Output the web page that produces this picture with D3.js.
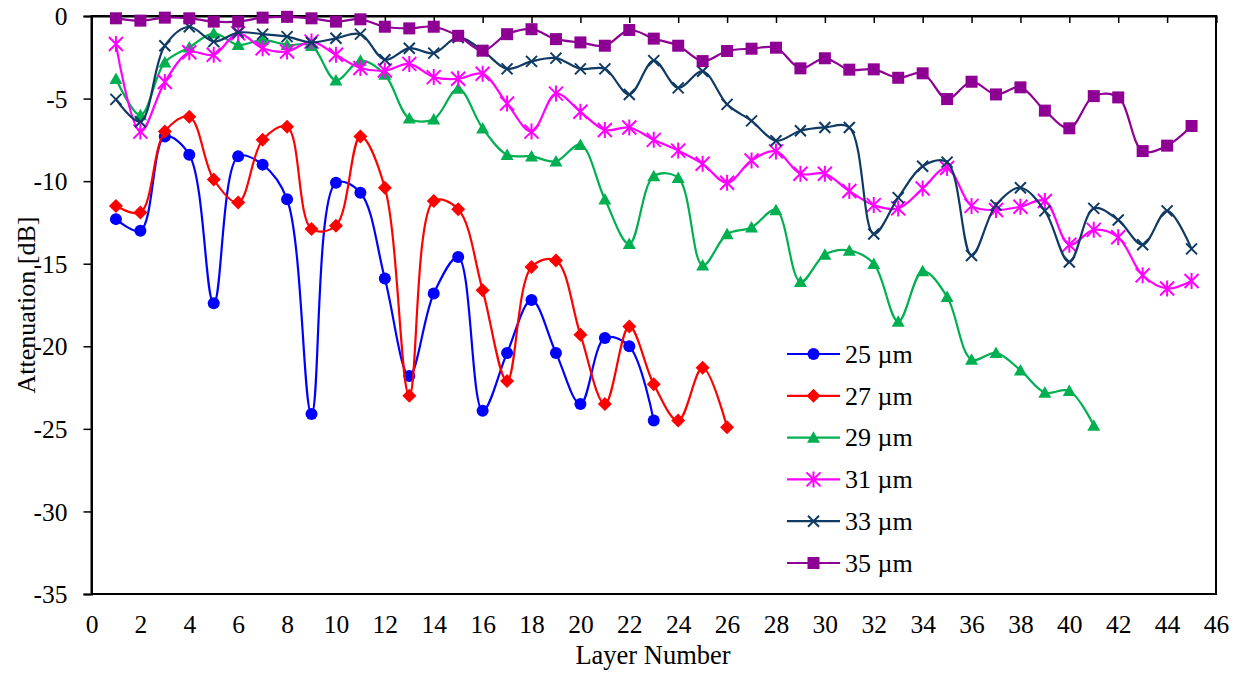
<!DOCTYPE html>
<html>
<head>
<meta charset="utf-8">
<script src="https://cdn.jsdelivr.net/npm/d3@7"></script>
<style>
  html, body { margin: 0; padding: 0; background: #fff; }
  svg { display: block; }
  svg text { font-family: "Times New Roman", "Liberation Serif", "DejaVu Serif", serif; fill: #000; }
</style>
</head>
<body>
<svg id="chart" width="1239" height="673"></svg>
<script>
// ---- Data ----
const seriesNames = ["25 \u00b5m", "27 \u00b5m", "29 \u00b5m", "31 \u00b5m", "33 \u00b5m", "35 \u00b5m"];

const s25 = [-12.3, -13.0, -7.3, -8.4, -17.4, -8.5, -9.0, -11.1, -24.1, -10.1, -10.7, -15.9,
  -21.8, -16.8, -14.6, -23.9, -20.4, -17.2, -20.4, -23.5, -19.5, -20.0, -24.5];

const s27 = [-11.5, -11.9, -7.0, -6.1, -9.9, -11.3, -7.5, -6.7, -12.9, -12.7, -7.3, -10.4,
  -23.0, -11.2, -11.7, -16.6, -22.1, -15.2, -14.8, -19.3, -23.5, -18.8, -22.3, -24.5, -21.3, -24.9];

const s29 = [-3.8, -6.0, -2.8, -1.9, -1.05, -1.75, -1.45, -1.75, -1.8, -3.9, -2.7, -3.55,
  -6.2, -6.25, -4.4, -6.8, -8.4, -8.5, -8.8, -7.8, -11.1, -13.8, -9.7, -9.8,
  -15.1, -13.2, -12.8, -11.75, -16.1, -14.45, -14.2, -15.0, -18.5, -15.45, -17.0, -20.8,
  -20.4, -21.45, -22.8, -22.7, -24.8];

const s31 = [-1.7, -7.0, -4.0, -2.2, -2.35, -1.05, -1.95, -2.15, -1.55, -2.35, -3.15, -3.3,
  -2.9, -3.7, -3.8, -3.5, -5.3, -7.0, -4.7, -5.8, -6.9, -6.75, -7.5, -8.15,
  -8.95, -10.1, -8.75, -8.2, -9.55, -9.55, -10.6, -11.45, -11.65, -10.45, -9.2, -11.5,
  -11.75, -11.55, -11.2, -13.85, -12.95, -13.4, -15.7, -16.5, -16.05];

const s33 = [-5.05, -6.4, -1.8, -0.65, -1.55, -1.0, -1.1, -1.25, -1.6, -1.35, -1.1, -2.65,
  -1.95, -2.25, -1.3, -2.1, -3.2, -2.75, -2.55, -3.2, -3.2, -4.75, -2.7, -4.35,
  -3.35, -5.35, -6.35, -7.55, -6.95, -6.75, -6.75, -13.2, -11.0, -9.1, -8.85, -14.5,
  -11.45, -10.4, -11.8, -14.9, -11.65, -12.35, -13.85, -11.8, -14.1];

const s35 = [-0.14, -0.28, -0.1, -0.14, -0.34, -0.34, -0.1, -0.05, -0.14, -0.34, -0.2, -0.65,
  -0.75, -0.65, -1.2, -2.1, -1.1, -0.8, -1.4, -1.6, -1.8, -0.85, -1.37, -1.8,
  -2.73, -2.12, -1.98, -1.92, -3.17, -2.56, -3.25, -3.23, -3.74, -3.47, -5.03, -3.98,
  -4.75, -4.32, -5.73, -6.8, -4.85, -4.93, -8.18, -7.85, -6.66];

const xTicks = d3.range(0, 47, 2);
const yTicks = d3.range(-35, 1, 5);

const seriesValues = [s25, s27, s29, s31, s33, s35];
const seriesColors = ["#0000FF", "#FF0000", "#00B050", "#FF00FF", "#0E3A64", "#8E0094"];
const seriesMarkers = ["circle", "diamond", "triangle", "asterisk", "cross", "square"];

// ---- Layout ----
const FONT = "'Times New Roman', 'Liberation Serif', 'DejaVu Serif', serif";
const svg = d3.select("#chart");
const plot = { left: 91.5, right: 1216, top: 16, bottom: 594 };

const x = d3.scaleLinear().domain([0, 46]).range([plot.left, plot.right]);
const y = d3.scaleLinear().domain([-35, 0]).range([plot.bottom, plot.top]);

// plot border
svg.append("rect")
  .attr("x", plot.left).attr("y", plot.top)
  .attr("width", plot.right - plot.left).attr("height", plot.bottom - plot.top)
  .attr("fill", "none").attr("stroke", "#000").attr("stroke-width", 2);

// Y axis (left) with outward ticks
const yAxis = d3.axisLeft(y).tickValues(yTicks).tickSize(8).tickPadding(16)
  .tickFormat(d => String(d));
const gy = svg.append("g").attr("transform", `translate(${plot.left},0)`).call(yAxis);
gy.attr("font-family", FONT).attr("font-size", 25.5);
gy.select(".domain").attr("stroke", "#000").attr("stroke-width", 2);
gy.selectAll(".tick line").attr("stroke", "#000").attr("stroke-width", 1.5);
gy.selectAll(".tick text").attr("fill", "#000").attr("dy", "0.34em");

// X axis line at y=0 (top) with ticks pointing down
const xAxisTop = d3.axisBottom(x).tickValues(xTicks).tickSize(7).tickFormat("");
const gxt = svg.append("g").attr("transform", `translate(0,${y(0)})`).call(xAxisTop);
gxt.select(".domain").attr("stroke", "#000").attr("stroke-width", 2);
gxt.selectAll(".tick line").attr("stroke", "#000").attr("stroke-width", 1.5);

// X labels at bottom (low position)
const xAxisLabels = d3.axisBottom(x).tickValues(xTicks).tickSize(0).tickPadding(0)
  .tickFormat(d3.format("d"));
const gxb = svg.append("g").attr("transform", `translate(0,${plot.bottom})`).call(xAxisLabels);
gxb.attr("font-family", FONT).attr("font-size", 25.5);
gxb.select(".domain").remove();
gxb.selectAll(".tick text").attr("fill", "#000").attr("dy", null).attr("y", 39);

// Axis titles
svg.append("text").attr("x", 653).attr("y", 664)
  .attr("text-anchor", "middle").attr("font-family", FONT).attr("font-size", 26.5).text("Layer Number");
svg.append("text").attr("transform", "translate(35,305) rotate(-90)")
  .attr("text-anchor", "middle").attr("font-family", FONT).attr("font-size", 26).text("Attenuation [dB]");

// ---- Markers ----
function drawMarker(g, type, cx, cy, color) {
  if (type === "circle") {
    g.append("circle").attr("cx", cx).attr("cy", cy).attr("r", 6).attr("fill", color);
  } else if (type === "diamond") {
    const s = 7;
    g.append("path").attr("d", `M${cx},${cy - s}L${cx + s},${cy}L${cx},${cy + s}L${cx - s},${cy}Z`).attr("fill", color);
  } else if (type === "triangle") {
    const w = 6.5, h = 11.5;
    g.append("path").attr("d", `M${cx},${cy - h * 0.55}L${cx + w},${cy + h * 0.45}L${cx - w},${cy + h * 0.45}Z`).attr("fill", color);
  } else if (type === "square") {
    const s = 6;
    g.append("rect").attr("x", cx - s).attr("y", cy - s).attr("width", 2 * s).attr("height", 2 * s).attr("fill", color);
  } else if (type === "cross") {
    const s = 5.5;
    g.append("path").attr("d", `M${cx - s},${cy - s}L${cx + s},${cy + s}M${cx - s},${cy + s}L${cx + s},${cy - s}`)
      .attr("stroke", color).attr("stroke-width", 2).attr("fill", "none");
  } else if (type === "asterisk") {
    const s = 7;
    g.append("path").attr("d", `M${cx - s},${cy - s}L${cx + s},${cy + s}M${cx - s},${cy + s}L${cx + s},${cy - s}M${cx},${cy - s - 1}L${cx},${cy + s + 1}`)
      .attr("stroke", color).attr("stroke-width", 2).attr("fill", "none");
  }
}

// ---- Series ----
const line = d3.line().x(d => x(d[0])).y(d => y(d[1])).curve(d3.curveCatmullRom.alpha(0.5));

seriesValues.forEach((vals, i) => {
  const pts = vals.map((v, j) => [j + 1, v]);
  const g = svg.append("g");
  g.append("path").attr("d", line(pts)).attr("fill", "none")
    .attr("stroke", seriesColors[i]).attr("stroke-width", 2.2).attr("stroke-linejoin", "round");
  pts.forEach(p => drawMarker(g, seriesMarkers[i], x(p[0]), y(p[1]), seriesColors[i]));
});

// ---- Legend ----
const legendY0 = 354, legendDy = 41.8;
seriesNames.forEach((name, i) => {
  const g = svg.append("g");
  const ly = legendY0 + i * legendDy;
  g.append("line").attr("x1", 787).attr("x2", 840).attr("y1", ly).attr("y2", ly)
    .attr("stroke", seriesColors[i]).attr("stroke-width", 2.2);
  drawMarker(g, seriesMarkers[i], 813.5, ly, seriesColors[i]);
  g.append("text").attr("x", 845).attr("y", ly).attr("dy", "0.34em")
    .attr("font-family", FONT).attr("font-size", 26).text(name);
});
</script>
</body>
</html>
